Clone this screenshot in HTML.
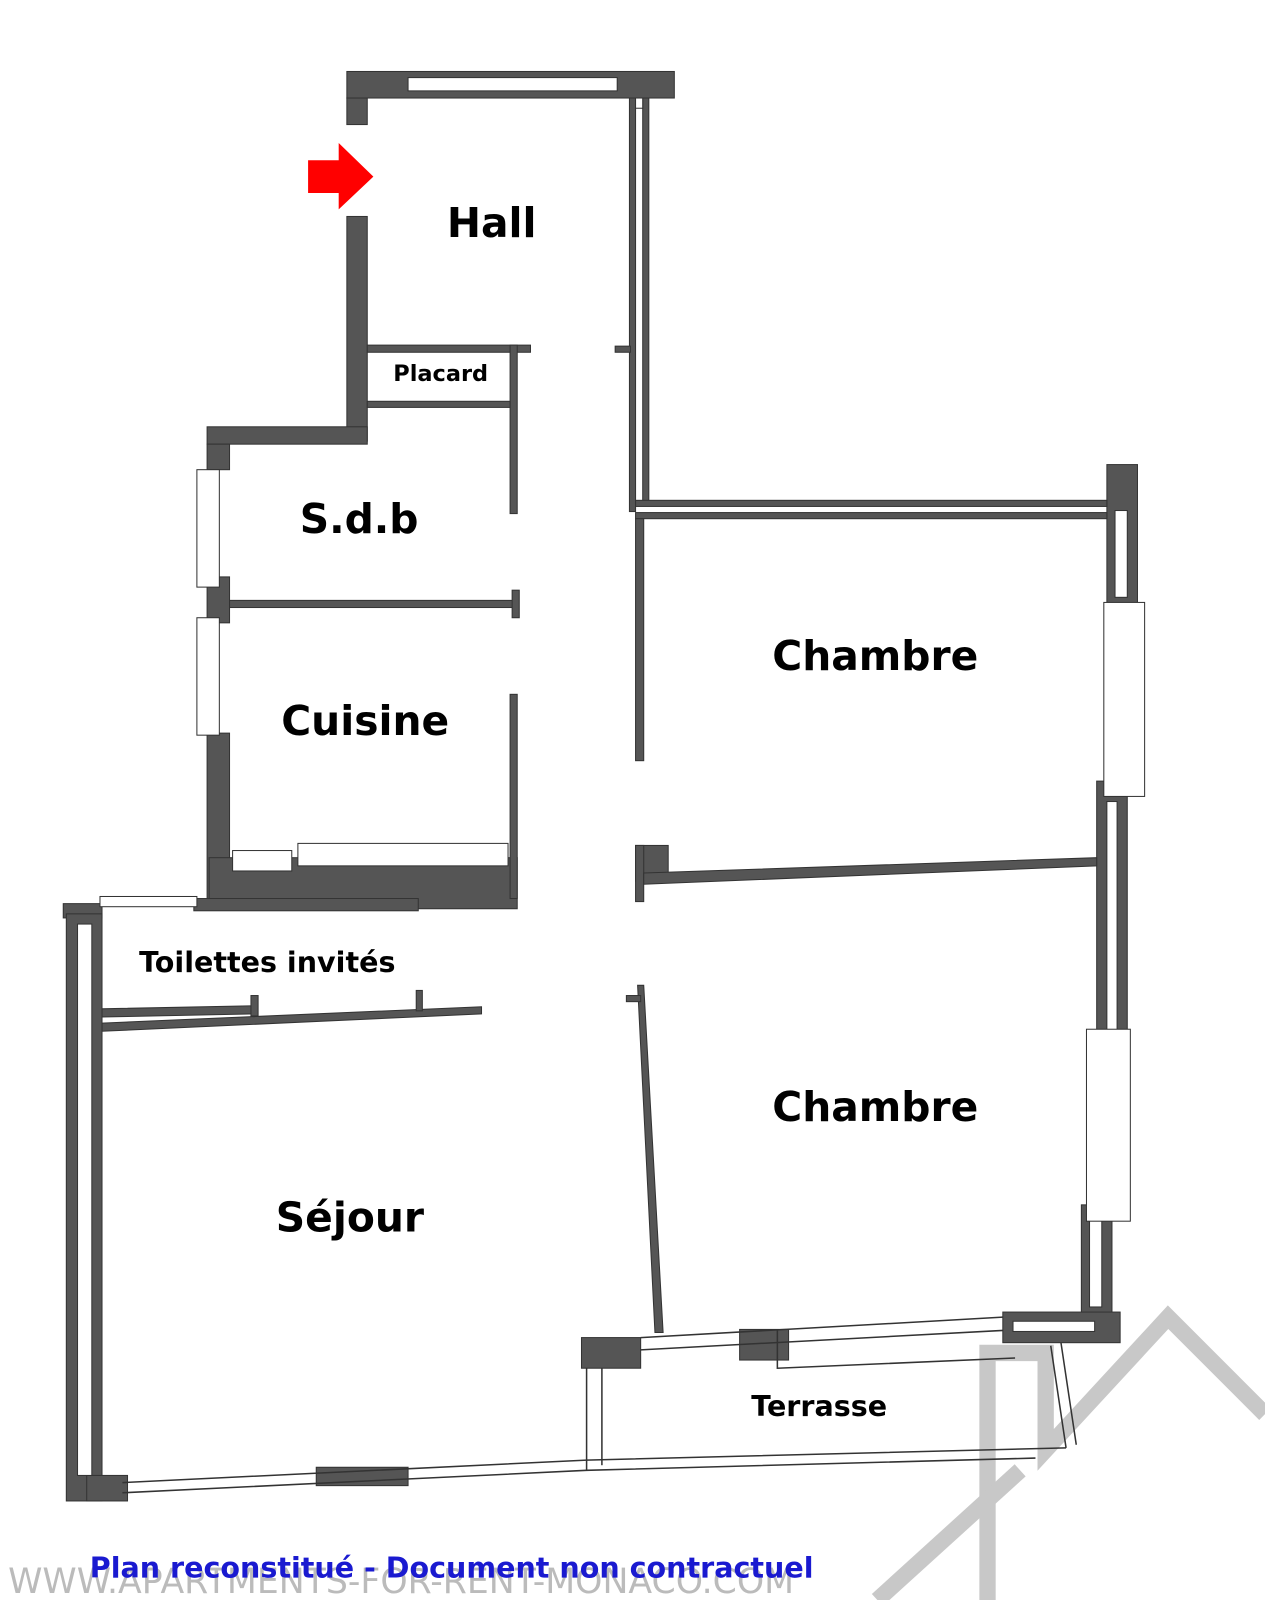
<!DOCTYPE html>
<html><head><meta charset="utf-8"><style>
html,body{margin:0;padding:0;background:#fff;}
svg{display:block;}
text{font-family:"DejaVu Sans","Liberation Sans",sans-serif;font-weight:bold;fill:#000;}
</style></head><body>
<svg width="1265" height="1600" viewBox="0 0 1240 1567" preserveAspectRatio="none" xmlns="http://www.w3.org/2000/svg">
<rect width="1240" height="1567" fill="#fff"/>
<!-- watermark house -->
<g fill="none" stroke="#c8c8c8" stroke-width="16">
<polyline points="968,1567 968,1325 1025,1325 1025,1420 1145,1290 1240,1385"/>
<polyline points="860,1567 1000,1440"/>
</g>
<g fill="#555" stroke="#333" stroke-width="1">
<!-- Hall top wall -->
<rect x="340" y="70" width="321" height="26"/>
<rect x="340" y="96" width="20" height="26"/>
<rect x="340" y="212" width="20" height="220"/>
<!-- SdB top -->
<rect x="203" y="418" width="157" height="17"/>
<rect x="203" y="435" width="22" height="25"/>
<rect x="203" y="565" width="22" height="45"/>
<rect x="203" y="718" width="22" height="172"/>
<!-- cuisine bottom -->
<rect x="205" y="840" width="302" height="50"/>
<rect x="190" y="880" width="220" height="12"/>
<!-- right walls -->
<rect x="1085" y="455" width="30" height="158"/>
<rect x="1075" y="765" width="30" height="265"/>
<rect x="1060" y="1180" width="30" height="110"/>
<rect x="983" y="1285" width="115" height="30"/>
<rect x="570" y="1310" width="58" height="30"/>
<rect x="725" y="1302" width="48" height="30"/>
<!-- toilettes / sejour left -->
<rect x="62" y="885" width="38" height="14"/>
<rect x="65" y="895" width="35" height="575"/>
<rect x="85" y="1445" width="40" height="25"/>
<rect x="310" y="1437" width="90" height="18"/>
<!-- corridor stubs -->
<rect x="623" y="828" width="32" height="35"/>
<rect x="623" y="828" width="8" height="55"/>
</g>
<!-- white inner lines in dark walls -->
<g fill="#fff" stroke="#333" stroke-width="1">
<rect x="400" y="76" width="205" height="13"/>
<rect x="1093" y="500" width="12" height="85"/>
<rect x="1085" y="785" width="10" height="230"/>
<rect x="1068" y="1195" width="12" height="85"/>
<rect x="993" y="1294" width="80" height="10"/>
<rect x="76" y="905" width="14" height="540"/>
<rect x="228" y="833" width="58" height="20"/>
<rect x="292" y="826" width="206" height="22"/>
<!-- windows -->
<rect x="193" y="460" width="22" height="115"/>
<rect x="193" y="605" width="22" height="115"/>
<rect x="1082" y="590" width="40" height="190"/>
<rect x="1065" y="1008" width="43" height="188"/>
<rect x="98" y="878" width="95" height="10"/>
</g>
<!-- thin walls -->
<g fill="#555" stroke="#333" stroke-width="1">
<rect x="617" y="96" width="6" height="405"/>
<rect x="630" y="96" width="6" height="395"/>
<rect x="623" y="96" width="7" height="10" fill="#fff"/>
<rect x="603" y="339" width="15" height="6"/>
<rect x="623" y="490" width="462" height="6"/>
<rect x="623" y="502" width="462" height="6"/>
<rect x="360" y="338" width="160" height="7"/>
<rect x="500" y="338" width="7" height="165"/>
<rect x="360" y="393" width="140" height="6"/>
<rect x="225" y="588" width="282" height="7"/>
<rect x="502" y="578" width="7" height="27"/>
<rect x="500" y="680" width="7" height="200"/>
<rect x="623" y="508" width="8" height="237"/>
<polygon points="631,855 1075,840 1075,848 631,866"/>
<polygon points="625,965 631,965 650,1305 642,1305"/>
<rect x="614" y="975" width="14" height="6"/>
<polygon points="100,988 250,985 250,993 100,996"/>
<polygon points="100,1002 472,986 472,993 100,1010"/>
<rect x="246" y="975" width="7" height="20"/>
<rect x="408" y="970" width="6" height="20"/>
</g>
<!-- terrace and sejour bottom outlines -->
<g fill="none" stroke="#333" stroke-width="1.5">
<polyline points="120,1452 575,1430 1045,1418"/>
<polyline points="120,1462 575,1440 1015,1428"/>
<polyline points="575,1340 575,1440"/>
<polyline points="590,1340 590,1435"/>
<polyline points="628,1310 983,1290"/>
<polyline points="628,1322 983,1303"/>
<polyline points="762,1302 762,1340 995,1330"/>
<polyline points="1030,1318 1045,1418"/>
<polyline points="1040,1315 1055,1415"/>
</g>
<!-- red arrow -->
<polygon points="302,157 332,157 332,140 366,173 332,205 332,189 302,189" fill="#f00"/>
<!-- labels -->
<text x="482" y="232" font-size="40" text-anchor="middle">Hall</text>
<text x="432" y="373" font-size="22" text-anchor="middle">Placard</text>
<text x="352" y="522" font-size="40" text-anchor="middle">S.d.b</text>
<text x="358" y="720" font-size="40" text-anchor="middle">Cuisine</text>
<text x="858" y="656" font-size="40" text-anchor="middle">Chambre</text>
<text x="858" y="1098" font-size="40" text-anchor="middle">Chambre</text>
<text x="262" y="952" font-size="28" text-anchor="middle">Toilettes invités</text>
<text x="343" y="1206" font-size="40" text-anchor="middle">Séjour</text>
<text x="803" y="1387" font-size="28" text-anchor="middle">Terrasse</text>
<text x="8" y="1560" font-size="34" style="font-weight:normal;fill:#bbb">WWW.APARTMENTS-FOR-RENT-MONACO.COM</text>
<text x="88" y="1545" font-size="28" style="fill:#1a1ad0">Plan reconstitué - Document non contractuel</text>
</svg>
</body></html>
